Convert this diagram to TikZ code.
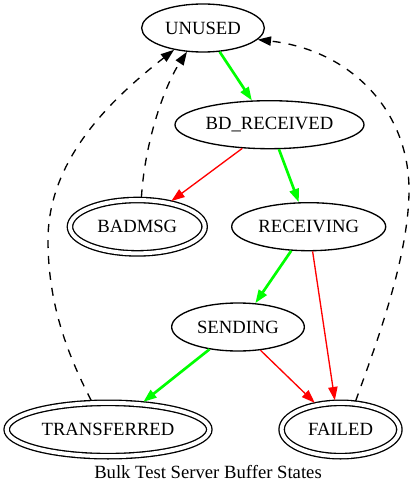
\documentclass[tikz,border=0pt]{standalone}
\usepackage{fontspec}
\setmainfont{Liberation Serif}
\usepackage{tikz}
\usetikzlibrary{shapes.geometric}
\usetikzlibrary{arrows.meta}
\definecolor{okgreen}{RGB}{0,255,0}
\definecolor{badred}{RGB}{255,0,0}
\tikzset{
  bufstate/.style={ellipse, draw, line width=1pt, inner sep=0pt, minimum height=36pt,
    font=\fontsize{14}{16}\selectfont},
  endstate/.style={bufstate, double, double distance=3pt, minimum height=40pt, outer sep=2pt},
  okedge/.style={draw=okgreen, line width=2pt, -{Triangle[length=10pt,width=7pt]}, okgreen},
  failedge/.style={draw=badred, line width=1pt, -{Triangle[length=10pt,width=7pt]}, badred},
  backedge/.style={draw=black, line width=1pt, dash pattern=on 6pt off 6pt, -{Triangle[length=10pt,width=7pt]}}
}
\begin{document}
\begin{tikzpicture}[x=0.75pt,y=-0.75pt]
\useasboundingbox (0,0) rectangle (417,495);
\node [bufstate, minimum width=92pt] (unused) at (203,28) {UNUSED};
\node [bufstate, minimum width=141.75pt] (bdreceived) at (269.5,124.7) {BD\_RECEIVED};
\node [endstate, minimum width=101pt] (badmsg) at (137.3,226.7) {BADMSG};
\node [bufstate, minimum width=115.5pt] (receiving) at (308.7,226.7) {RECEIVING};
\node [bufstate, minimum width=99.5pt] (sending) at (238,327) {SENDING};
\node [endstate, minimum width=152pt] (transferred) at (108,429.5) {TRANSFERRED};
\node [endstate, minimum width=88.3pt] (failed) at (340.5,429.5) {FAILED};
\node [font=\fontsize{14}{16}\selectfont] (caption) at (208,472.5) {Bulk Test Server Buffer States};
\draw [okedge] (unused.-55) -- (bdreceived.126);
\draw [failedge] (bdreceived.-139) -- (badmsg.37);
\draw [okedge] (bdreceived.-69) -- (receiving.112);
\draw [okedge] (receiving.-126) -- (sending.54);
\draw [failedge] (receiving.-81) -- (failed.101);
\draw [failedge] (sending.-46) -- (failed.134);
\draw [okedge] (sending.-142) -- (transferred.38);
\draw [backedge] (badmsg.82) .. controls (145,140) and (165,85) .. (unused.-124);
\draw [backedge] (transferred.120) .. controls (65,350) and (48,300) .. (48,240)
  .. controls (48,160) and (110,100) .. (unused.-143);
\draw [backedge] (failed.62) .. controls (372,355) and (409,260) .. (409,190)
  .. controls (409,110) and (350,50) .. (unused.-12);
\end{tikzpicture}
\end{document}
